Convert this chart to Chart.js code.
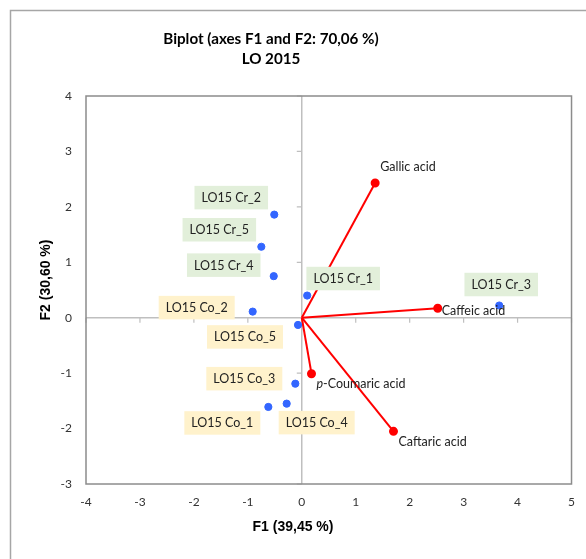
<!DOCTYPE html>
<html>
<head>
<meta charset="utf-8">
<script src="https://cdn.jsdelivr.net/npm/chart.js@4/dist/chart.umd.min.js"></script>
<style>
  html, body { margin: 0; padding: 0; background: #fff; }
  #wrap { width: 586px; height: 559px; }
</style>
</head>
<body>
<div id="wrap"><canvas id="c" width="586" height="559"></canvas></div>
<script>
// ---- Data ----
const obsNames = ["LO15 Cr_1", "LO15 Cr_2", "LO15 Cr_3", "LO15 Cr_4", "LO15 Cr_5",
                  "LO15 Co_1", "LO15 Co_2", "LO15 Co_3", "LO15 Co_4", "LO15 Co_5"];
const obsF1 = [0.10, -0.51, 3.66, -0.52, -0.75, -0.62, -0.91, -0.12, -0.28, -0.07];
const obsF2 = [0.40, 1.86, 0.22, 0.75, 1.28, -1.61, 0.11, -1.19, -1.55, -0.13];
const obsGroup = ["Cr", "Cr", "Cr", "Cr", "Cr", "Co", "Co", "Co", "Co", "Co"];

const varNames = ["Gallic acid", "Caffeic acid", "p-Coumaric acid", "Caftaric acid"];
const varF1 = [1.36, 2.52, 0.18, 1.70];
const varF2 = [2.43, 0.17, -1.01, -2.05];

const xTicks = [-4, -3, -2, -1, 0, 1, 2, 3, 4, 5];
const yTicks = [-3, -2, -1, 0, 1, 2, 3, 4];

const titleLines = ["Biplot (axes F1 and F2: 70,06 %)", "LO 2015"];
const xTitle = "F1 (39,45 %)";
const yTitle = "F2 (30,60 %)";

// ---- Label placement (pixel offsets from each mark) ----
const obsLabelOffset = {
  "LO15 Cr_1": [36, -17], "LO15 Cr_2": [-43, -17], "LO15 Cr_3": [2, -21],
  "LO15 Cr_4": [-50, -11], "LO15 Cr_5": [-42, -17],
  "LO15 Co_1": [-46, 16], "LO15 Co_2": [-56, -4], "LO15 Co_3": [-51, -5],
  "LO15 Co_4": [30, 19], "LO15 Co_5": [-53, 12]
};
const varLabelOffset = [[5, -16], [4, 3], [5, 10], [5, 11]];
const groupFill = { Cr: "#E2EFDA", Co: "#FFF2CC" };

const RED = "#FF0000";
const BLUE = "#3366FF";
const FONT = "Lato, 'Open Sans', sans-serif";

const obsData = obsF1.map((x, i) => ({ x: x, y: obsF2[i] }));
const datasets = [{
  label: "Observations",
  data: obsData,
  backgroundColor: BLUE,
  borderColor: BLUE,
  pointRadius: 3.6,
  pointHoverRadius: 3.6,
  showLine: false
}];
varNames.forEach((n, i) => {
  datasets.push({
    label: n,
    data: [{ x: 0, y: 0 }, { x: varF1[i], y: varF2[i] }],
    showLine: true,
    borderColor: RED,
    backgroundColor: RED,
    borderWidth: 2,
    pointRadius: [0, 3.5],
    pointHoverRadius: [0, 3.5],
    order: 1
  });
});

const decor = {
  id: "decor",
  beforeDraw(chart) {
    const ctx = chart.ctx;
    ctx.save();
    ctx.fillStyle = "#fff";
    ctx.fillRect(0, 0, chart.width, chart.height);
    ctx.strokeStyle = "#A6A6A6";
    ctx.lineWidth = 1.5;
    ctx.strokeRect(10.5, 10.5, chart.width + 20, chart.height + 20);
    ctx.restore();
  },
  beforeDatasetsDraw(chart) {
    const ctx = chart.ctx;
    const xs = chart.scales.x, ys = chart.scales.y;
    const x0 = xs.getPixelForValue(0), y0 = ys.getPixelForValue(0);
    ctx.save();
    ctx.strokeStyle = "#BFBFBF";
    ctx.lineWidth = 1.2;
    ctx.beginPath();
    xTicks.forEach(v => {
      if (v === 0) return;
      const px = xs.getPixelForValue(v);
      ctx.moveTo(px, y0); ctx.lineTo(px, y0 + 5);
    });
    yTicks.forEach(v => {
      if (v === 0) return;
      const py = ys.getPixelForValue(v);
      ctx.moveTo(x0 - 5, py); ctx.lineTo(x0, py);
    });
    ctx.stroke();
    // plot frame
    const a = chart.chartArea;
    ctx.strokeStyle = "#8C8C8C";
    ctx.lineWidth = 1.5;
    ctx.strokeRect(a.left, a.top, a.right - a.left, a.bottom - a.top);
    ctx.restore();
  },
  afterDatasetsDraw(chart) {
    const ctx = chart.ctx;
    const xs = chart.scales.x, ys = chart.scales.y;
    ctx.save();
    // observation labels
    ctx.font = "12.5px " + FONT;
    ctx.textBaseline = "middle";
    ctx.textAlign = "center";
    obsNames.forEach((n, i) => {
      const px = xs.getPixelForValue(obsF1[i]);
      const py = ys.getPixelForValue(obsF2[i]);
      const off = obsLabelOffset[n];
      const cx = px + off[0], cy = py + off[1];
      const w = ctx.measureText(n).width + 14;
      const h = 23.5;
      ctx.fillStyle = groupFill[obsGroup[i]];
      ctx.fillRect(cx - w / 2, cy - h / 2, w, h);
      ctx.fillStyle = "#222";
      ctx.fillText(n, cx, cy + 0.5);
    });
    // variable labels
    ctx.textAlign = "left";
    varNames.forEach((n, i) => {
      const px = xs.getPixelForValue(varF1[i]);
      const py = ys.getPixelForValue(varF2[i]);
      let sx = px + varLabelOffset[i][0];
      const sy = py + varLabelOffset[i][1];
      ctx.fillStyle = "#222";
      if (n.startsWith("p-")) {
        ctx.font = "italic 12.5px " + FONT;
        ctx.fillText("p", sx, sy);
        sx += ctx.measureText("p").width;
        ctx.font = "12.5px " + FONT;
        ctx.fillText(n.slice(1), sx, sy);
      } else {
        ctx.font = "12.5px " + FONT;
        ctx.fillText(n, sx, sy);
      }
    });
    // titles
    ctx.fillStyle = "#000";
    ctx.textAlign = "center";
    ctx.font = "bold 15.2px " + FONT;
    ctx.fillText(titleLines[0], 271, 39);
    ctx.fillText(titleLines[1], 271, 59);
    ctx.font = "bold 14px 'Liberation Sans', Arial, sans-serif";
    ctx.fillText(xTitle, 293, 527);
    ctx.save();
    ctx.translate(46, 280);
    ctx.rotate(-Math.PI / 2);
    ctx.fillText(yTitle, 0, 0);
    ctx.restore();
    ctx.restore();
  }
};

new Chart(document.getElementById("c"), {
  type: "scatter",
  data: { datasets: datasets },
  options: {
    responsive: false,
    animation: false,
    events: [],
    layout: { padding: { left: 0, top: 96, right: 14, bottom: 0 } },
    plugins: { legend: { display: false }, tooltip: { enabled: false }, title: { display: false } },
    scales: {
      x: {
        type: "linear", min: -4, max: 5,
        afterFit(axis) { axis.height = 75; },
        afterBuildTicks(axis) { axis.ticks = xTicks.map(v => ({ value: v })); },
        ticks: { font: { family: FONT, size: 12 }, color: "#333", padding: 11, maxRotation: 0 },
        grid: {
          drawTicks: false,
          color: c => (c.tick && c.tick.value === 0 ? "#BFBFBF" : "rgba(0,0,0,0)"),
          lineWidth: 1.5
        },
        border: { display: false }
      },
      y: {
        type: "linear", min: -3, max: 4,
        afterFit(axis) { axis.width = 86; },
        afterBuildTicks(axis) { axis.ticks = yTicks.map(v => ({ value: v })); },
        ticks: { font: { family: FONT, size: 12 }, color: "#333", padding: 14 },
        grid: {
          drawTicks: false,
          color: c => (c.tick && c.tick.value === 0 ? "#BFBFBF" : "rgba(0,0,0,0)"),
          lineWidth: 1.5
        },
        border: { display: false }
      }
    }
  },
  plugins: [decor]
});
</script>
</body>
</html>
